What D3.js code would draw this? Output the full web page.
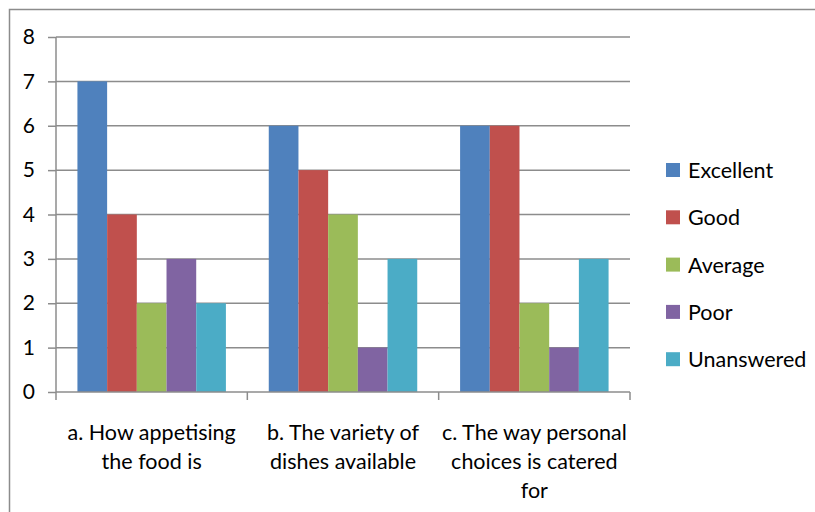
<!DOCTYPE html>
<html><head><meta charset="utf-8">
<script src="https://cdn.jsdelivr.net/npm/d3@7"></script>
<style>body{margin:0;background:#fff}svg{display:block}text{font-family:Lato,"Open Sans",sans-serif;fill:#000}</style>
</head><body><svg id="c" width="815" height="512"></svg>
<script>
const categories = [
  ["a. How appetising","the food is"],
  ["b. The variety of","dishes available"],
  ["c. The way personal","choices is catered","for"]
];
const seriesNames = ["Excellent","Good","Average","Poor","Unanswered"];
const seriesColors = ["#4F81BD","#C0504D","#9BBB59","#8064A2","#4BACC6"];
const excellent = [7,6,6];
const good = [4,5,6];
const average = [2,4,2];
const poor = [3,1,1];
const unanswered = [2,3,3];
const yTicks = [0,1,2,3,4,5,6,7,8];

const seriesValues = [excellent, good, average, poor, unanswered];
const svg = d3.select("#c");
const L = 56, R = 630, T = 37, B = 392;

// outer frame
svg.append("rect").attr("x",9.5).attr("y",9.5).attr("width",820).attr("height",520)
  .attr("fill","none").attr("stroke","#8c8c8c").attr("stroke-width",1.5);

const x0 = d3.scaleBand().domain(d3.range(categories.length)).range([L,R]).paddingInner(0).paddingOuter(0);
const inner = 0.776;
const x1 = d3.scaleBand().domain(d3.range(seriesNames.length))
  .range([0, x0.bandwidth()*inner]);
const off = x0.bandwidth()*(1-inner)/2;
const y = d3.scaleLinear().domain([0,8]).range([B,T]);

// gridlines
svg.append("g").selectAll("line").data(yTicks.filter(d=>d>0)).join("line")
  .attr("x1",L).attr("x2",R).attr("y1",d=>y(d)).attr("y2",d=>y(d))
  .attr("stroke","#8c8c8c").attr("stroke-width",1.5);

// bars
seriesValues.forEach((vals,si)=>{
  svg.append("g").selectAll("rect").data(vals).join("rect")
    .attr("x",(d,ci)=>x0(ci)+off+x1(si))
    .attr("width",x1.bandwidth())
    .attr("y",d=>y(d)).attr("height",d=>y(0)-y(d))
    .attr("fill",seriesColors[si]);
});

// y axis
const yAxis = svg.append("g").attr("transform",`translate(${L},0)`)
  .call(d3.axisLeft(y).tickValues(yTicks).tickSize(8).tickPadding(13).tickFormat(d3.format("d")));
yAxis.select(".domain").attr("stroke","#8c8c8c").attr("stroke-width",1.5).attr("d",`M0,${T}V${B}`);
yAxis.selectAll(".tick line").attr("stroke","#8c8c8c").attr("stroke-width",1.5);
yAxis.selectAll(".tick text").style("font-size","21px").style("font-family","Lato,'Open Sans',sans-serif").attr("fill","#000");

// x axis
const xAxisG = svg.append("g");
xAxisG.append("line").attr("x1",L).attr("x2",R).attr("y1",B).attr("y2",B).attr("stroke","#8c8c8c").attr("stroke-width",1.5);
xAxisG.selectAll("line.t").data(d3.range(categories.length+1)).join("line").attr("class","t")
  .attr("x1",i=>i<categories.length?x0(i):R).attr("x2",i=>i<categories.length?x0(i):R)
  .attr("y1",B).attr("y2",B+8).attr("stroke","#8c8c8c").attr("stroke-width",1.5);
categories.forEach((lines,ci)=>{
  const t = svg.append("text").attr("text-anchor","middle").style("font-size","21.5px");
  lines.forEach((ln,li)=>{
    t.append("tspan").attr("x",x0(ci)+x0.bandwidth()/2).attr("y",440+li*29).text(ln);
  });
});

// legend
const lg = svg.append("g");
seriesNames.forEach((n,i)=>{
  const yy = 163 + i*47.3;
  lg.append("rect").attr("x",666).attr("y",yy).attr("width",14).attr("height",14).attr("fill",seriesColors[i]);
  lg.append("text").attr("x",688).attr("y",yy+15).style("font-size","21.5px").text(n);
});
</script></body></html>
